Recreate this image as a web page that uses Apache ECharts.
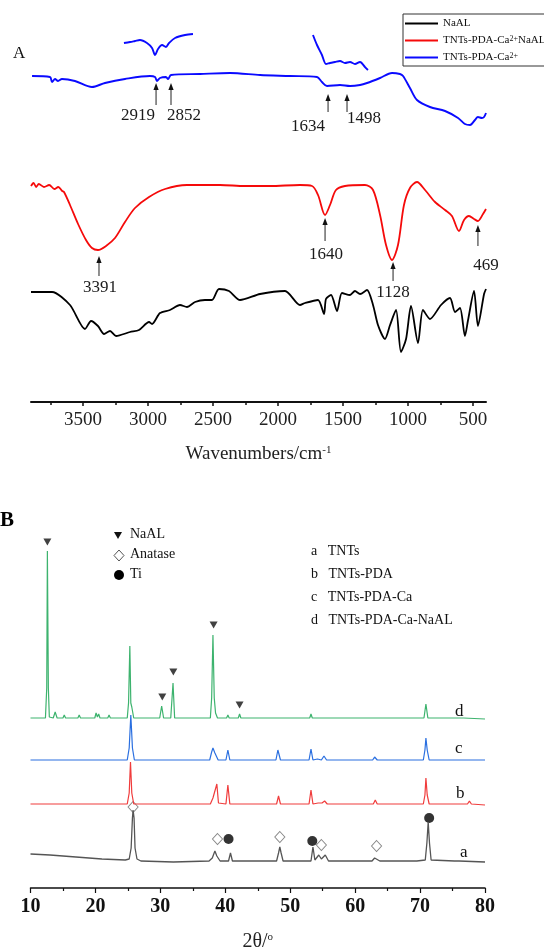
<!DOCTYPE html>
<html>
<head>
<meta charset="utf-8">
<script src="https://cdn.jsdelivr.net/npm/echarts@6.0.0/dist/echarts.min.js"></script>
<style>
  html, body { margin: 0; padding: 0; background: #fff; }
  #chart { width: 544px; height: 947px; }
</style>
</head>
<body>
<div id="chart"></div>
<script>
// ---- panel A: FTIR, [wavenumber, transmittance (a.u., offset)] ----
const ftirTicks = [3500, 3000, 2500, 2000, 1500, 1000, 500]
const ftirMinorTicks = [3750, 3250, 2750, 2250, 1750, 1250, 750]

const ftirNaAL = [
  [3900, 110], [3738, 110], [3600, 97], [3485, 73], [3438, 81], [3385, 76], [3338, 68],
  [3292, 71], [3246, 66], [3138, 70], [3069, 72], [2992, 80], [2969, 78], [2908, 89],
  [2831, 92], [2754, 97], [2700, 95], [2638, 100], [2562, 102], [2508, 102], [2454, 113],
  [2377, 111], [2292, 102], [2138, 108], [1946, 111], [1831, 97], [1792, 99], [1692, 102],
  [1646, 88], [1631, 103], [1592, 107], [1546, 91], [1508, 109], [1446, 107], [1408, 111],
  [1369, 108], [1315, 112], [1269, 97], [1231, 77], [1177, 63], [1138, 77], [1092, 92],
  [1054, 50], [1015, 63], [977, 96], [923, 59], [885, 92], [831, 83], [746, 97], [677, 104],
  [638, 90], [600, 94], [562, 66], [538, 82], [492, 111], [462, 76], [415, 108], [400, 113]
]
const ftirTNTsPDACaNaAL = [
  [3900, 216], [3880, 219], [3860, 215], [3840, 218], [3800, 215], [3760, 217], [3720, 213],
  [3690, 215], [3660, 211], [3646, 210], [3600, 197], [3538, 178], [3477, 162], [3431, 154],
  [3385, 152], [3323, 156], [3254, 164], [3177, 180], [3100, 194], [2992, 205], [2869, 213],
  [2700, 217], [2446, 217], [2254, 216], [2062, 216], [1831, 217], [1738, 216], [1692, 207],
  [1638, 187], [1600, 197], [1554, 212], [1485, 216], [1331, 217], [1269, 212], [1215, 187],
  [1169, 157], [1123, 142], [1077, 157], [1031, 197], [985, 214], [931, 220], [869, 212],
  [792, 200], [715, 192], [662, 186], [608, 171], [569, 182], [531, 186], [492, 183],
  [462, 181], [423, 188], [400, 193]
]
const ftirTNTsPDACa = [
  [3892, 326], [3754, 325], [3738, 320], [3715, 323], [3692, 321], [3662, 323], [3562, 321],
  [3431, 315], [3331, 319], [3177, 323], [2985, 326], [2946, 325], [2931, 321], [2908, 324],
  [2862, 325], [2846, 323], [2823, 327], [2600, 328], [2369, 329], [2138, 327], [1908, 326],
  [1700, 325], [1662, 320], [1623, 316], [1523, 317], [1446, 316], [1369, 317], [1315, 319],
  [1215, 324], [1123, 329], [1062, 328], [1038, 326], [985, 314], [931, 302], [831, 295],
  [715, 291], [615, 284], [562, 278], [523, 277], [485, 282], [462, 285], [431, 284],
  [415, 285], [400, 289]
]
// magnified insets of the TNTs-PDA-Ca2+ curve
const ftirInsetCH = [
  [3185, 359], [3138, 360], [3100, 361], [3062, 362], [3008, 359], [2969, 354], [2946, 347],
  [2923, 353], [2892, 357], [2862, 355], [2838, 359], [2792, 364], [2715, 367], [2654, 368]
]
const ftirInsetAmide = [
  [1731, 367], [1700, 357], [1662, 347], [1631, 338], [1600, 339], [1562, 340], [1523, 341],
  [1485, 339], [1446, 340], [1408, 338], [1369, 340], [1331, 335], [1308, 332]
]
// peak markers: arrow position, arrow tail, arrow head, text
const ftirMarkWn = [2938, 2823, 1615, 1469, 3377, 1638, 1115, 462]
const ftirMarkTail = [297, 297, 290, 290, 126, 161, 121, 156]
const ftirMarkHead = [319, 319, 308, 308, 146, 184, 140, 177]
const ftirMarkText = ['2919', '2852', '1634', '1498', '3391', '1640', '1128', '469']

// ---- panel B: XRD, [2theta, intensity (a.u., offset)] ----
const xrdTNTs = [
  [10, 34], [13, 33], [17, 31], [21, 29], [24.6, 28], [25.2, 29], [25.5, 40], [25.7, 70],
  [25.8, 78], [25.95, 70], [26.1, 40], [26.4, 29], [27, 27], [32, 26], [37.5, 27], [38.0, 30],
  [38.4, 37], [38.7, 32], [38.9, 33], [39.2, 27], [40.5, 27], [40.8, 35], [41.1, 27],
  [47.9, 27], [48.2, 35], [48.4, 41], [48.6, 35], [48.9, 27], [53.2, 27], [53.5, 41],
  [53.8, 28], [54.1, 28], [54.4, 33], [54.8, 29], [55.4, 33], [55.9, 27], [62.6, 27],
  [63.0, 30], [63.3, 32], [63.8, 27], [69.5, 27], [70.8, 28], [71.05, 45], [71.25, 66],
  [71.45, 45], [71.7, 28], [75.3, 27], [75.6, 28], [76.0, 27], [80, 26]
]
const xrdTNTsPDA = [
  [10, 84], [24.9, 84], [25.2, 95], [25.4, 126], [25.6, 95], [25.9, 84], [37.7, 84], [38.1, 90],
  [38.4, 88], [38.7, 104], [38.95, 85], [40.1, 84], [40.4, 103], [40.7, 84], [47.9, 84],
  [48.2, 92], [48.5, 84], [52.9, 84], [53.2, 98], [53.5, 84], [54.3, 85], [54.6, 87],
  [54.9, 85], [55.3, 87], [55.7, 84], [62.8, 84], [63.1, 88], [63.4, 84], [70.5, 84],
  [70.75, 93], [70.9, 110], [71.1, 93], [71.4, 84], [76.3, 84], [76.6, 86], [76.9, 84],
  [77.3, 84], [77.6, 87], [77.9, 84], [80, 83]
]
const xrdTNTsPDACa = [
  [10, 128], [24.9, 128], [25.2, 140], [25.45, 173], [25.7, 140], [26.0, 128], [37.6, 128],
  [37.9, 136], [38.1, 140], [38.4, 135], [38.6, 135], [38.9, 128], [40.1, 128], [40.4, 138],
  [40.7, 128], [47.8, 128], [48.1, 138], [48.5, 128], [52.9, 128], [53.2, 139], [53.5, 128],
  [54.2, 129], [54.5, 131], [54.8, 128], [55.2, 132], [55.6, 128], [62.7, 128], [63.0, 131],
  [63.4, 128], [70.5, 128], [70.75, 138], [70.9, 150], [71.1, 138], [71.4, 128], [76.1, 128],
  [76.4, 130], [76.7, 128], [80, 128]
]
const xrdTNTsPDACaNaAL = [
  [10, 170], [12.3, 170], [12.5, 200], [12.6, 337], [12.75, 200], [12.9, 171], [13.5, 170],
  [13.8, 176], [14.1, 170], [15.0, 170], [15.2, 173], [15.4, 170], [17.3, 170], [17.5, 173],
  [17.7, 170], [19.9, 170], [20.1, 175], [20.3, 171], [20.5, 174], [20.7, 170], [21.9, 170],
  [22.1, 173], [22.3, 170], [23.4, 170], [23.6, 172], [23.8, 170], [24.9, 170], [25.1, 185],
  [25.3, 242], [25.45, 185], [25.6, 181], [25.9, 170], [29.9, 170], [30.2, 182], [30.5, 170],
  [31.6, 170], [31.95, 205], [32.2, 170], [33.1, 170], [33.3, 172], [33.5, 170], [34.3, 170],
  [34.5, 172], [34.7, 170], [37.7, 170], [37.9, 190], [38.1, 253], [38.3, 190], [38.5, 175],
  [38.8, 170], [40.2, 170], [40.4, 173], [40.6, 170], [42.0, 170], [42.2, 174], [42.4, 170],
  [48.0, 170], [48.2, 172], [48.5, 170], [53.0, 170], [53.2, 174], [53.4, 170], [54.2, 170],
  [54.4, 171], [54.6, 170], [62.8, 170], [63.0, 171], [63.2, 170], [66.4, 170], [66.6, 171],
  [66.8, 170], [70.6, 170], [70.9, 184], [71.2, 170], [76.3, 170], [76.5, 171], [76.7, 170],
  [80, 169]
]
const xrdNaALPeaks = [[12.6, 346], [30.3, 191], [32.0, 216], [38.2, 263], [42.2, 183]]
const xrdAnatasePeaks = [[25.8, 81], [38.8, 49], [48.4, 51], [54.8, 43], [63.3, 42]]
const xrdTiPeaks = [[40.5, 49], [53.4, 47], [71.4, 70]]

const SERIF = '"Liberation Serif", "DejaVu Serif", serif'
// label offsets (px) from arrow tail, layout only
const markShift = [[-18, 11], [13, 11], [-20, 15], [17, 7], [1, 12], [1, 14], [0, 12], [8, 20]]

const chart = echarts.init(document.getElementById('chart'))

function renderArrow(params, api) {
  const i = params.dataIndex
  const tail = api.coord([api.value(0), api.value(1)])
  const head = api.coord([api.value(0), api.value(2)])
  return {
    type: 'group',
    children: [
      { type: 'line', shape: { x1: tail[0], y1: tail[1], x2: head[0], y2: head[1] + 5 },
        style: { stroke: '#222', lineWidth: 1 } },
      { type: 'polygon', shape: { points: [[head[0], head[1]], [head[0] - 2.6, head[1] + 7], [head[0] + 2.6, head[1] + 7]] },
        style: { fill: '#111' } },
      { type: 'text', x: tail[0] + markShift[i][0], y: tail[1] + markShift[i][1],
        style: { text: ftirMarkText[i], font: '17px ' + SERIF, fill: '#1a1a1a', align: 'center', verticalAlign: 'middle' } }
    ]
  }
}

const legendNames = {
  'NaAL': 'NaAL',
  'TNTs-PDA-Ca2+NaAL': 'TNTs-PDA-Ca{s|2+}NaAL',
  'TNTs-PDA-Ca2+': 'TNTs-PDA-Ca{s|2+}'
}

chart.setOption({
  animation: false,
  backgroundColor: '#fff',
  grid: [
    { left: 31, right: 58, top: 10, bottom: 545, outerBoundsMode: 'none' },
    { left: 30.5, right: 59, top: 540, bottom: 59, outerBoundsMode: 'none' }
  ],
  legend: {
    data: ['NaAL', 'TNTs-PDA-Ca2+NaAL', 'TNTs-PDA-Ca2+'],
    orient: 'vertical',
    left: 403,
    top: 14,
    icon: 'rect',
    itemWidth: 33,
    itemHeight: 2,
    itemGap: 6,
    padding: [4, 4, 3, 2],
    borderColor: '#333',
    borderWidth: 1,
    selectedMode: false,
    formatter: name => legendNames[name],
    textStyle: {
      fontFamily: SERIF, fontSize: 11, color: '#111',
      rich: { s: { fontFamily: SERIF, fontSize: 8, verticalAlign: 'top', color: '#111' } }
    }
  },
  xAxis: [
    {
      gridIndex: 0, type: 'value', position: 'bottom', min: 400, max: 3900, inverse: true,
      axisLine: { lineStyle: { color: '#111', width: 2 } },
      axisTick: { customValues: ftirTicks, length: 4, lineStyle: { color: '#111', width: 1.5 } },
      axisLabel: { customValues: ftirTicks, formatter: v => String(v), fontFamily: SERIF, fontSize: 19, color: '#222', margin: 9 },
      splitLine: { show: false },
      name: '{a|Wavenumbers/cm}{b|-1}',
      nameLocation: 'middle',
      nameGap: 43,
      nameTextStyle: {
        rich: {
          a: { fontFamily: SERIF, fontSize: 19, color: '#222' },
          b: { fontFamily: SERIF, fontSize: 11, color: '#222', verticalAlign: 'top' }
        }
      }
    },
    {
      gridIndex: 0, type: 'value', position: 'bottom', min: 400, max: 3900, inverse: true,
      axisLine: { show: false },
      axisTick: { customValues: ftirMinorTicks, length: 3, lineStyle: { color: '#111', width: 1.5 } },
      axisLabel: { show: false },
      splitLine: { show: false }
    },
    {
      gridIndex: 1, type: 'value', min: 10, max: 80, interval: 10,
      axisLine: { lineStyle: { color: '#111', width: 1.5 } },
      axisTick: { length: 5, lineStyle: { color: '#111', width: 1.2 } },
      minorTick: { show: true, splitNumber: 2, length: 3, lineStyle: { color: '#111', width: 1.2 } },
      axisLabel: { fontFamily: SERIF, fontSize: 20, fontWeight: 'bold', color: '#111', margin: 9 },
      splitLine: { show: false },
      name: '2θ/{s|o}',
      nameLocation: 'middle',
      nameGap: 44,
      nameTextStyle: {
        fontFamily: SERIF, fontSize: 20, color: '#222',
        rich: { s: { fontFamily: SERIF, fontSize: 11, color: '#222', verticalAlign: 'top' } }
      }
    }
  ],
  yAxis: [
    { gridIndex: 0, type: 'value', min: 0, max: 392, show: false },
    { gridIndex: 1, type: 'value', min: 0, max: 348, show: false }
  ],
  series: [
    {
      name: 'NaAL', type: 'line', xAxisIndex: 0, yAxisIndex: 0, data: ftirNaAL,
      showSymbol: false, smooth: 0.25, lineStyle: { color: '#000', width: 1.8 }, itemStyle: { color: '#000' }
    },
    {
      name: 'TNTs-PDA-Ca2+NaAL', type: 'line', xAxisIndex: 0, yAxisIndex: 0, data: ftirTNTsPDACaNaAL,
      showSymbol: false, smooth: 0.3, lineStyle: { color: '#f50a0a', width: 1.8 }, itemStyle: { color: '#f50a0a' }
    },
    {
      name: 'TNTs-PDA-Ca2+', type: 'line', xAxisIndex: 0, yAxisIndex: 0, data: ftirTNTsPDACa,
      showSymbol: false, smooth: 0.3, lineStyle: { color: '#0a0aff', width: 1.9 }, itemStyle: { color: '#0a0aff' }
    },
    {
      name: 'TNTs-PDA-Ca2+', type: 'line', xAxisIndex: 0, yAxisIndex: 0, data: ftirInsetCH,
      showSymbol: false, smooth: 0.3, lineStyle: { color: '#0a0aff', width: 1.9 }, itemStyle: { color: '#0a0aff' }
    },
    {
      name: 'TNTs-PDA-Ca2+', type: 'line', xAxisIndex: 0, yAxisIndex: 0, data: ftirInsetAmide,
      showSymbol: false, smooth: 0.3, lineStyle: { color: '#0a0aff', width: 1.9 }, itemStyle: { color: '#0a0aff' }
    },
    {
      type: 'custom', xAxisIndex: 0, yAxisIndex: 0, renderItem: renderArrow, clip: false,
      data: ftirMarkWn.map((w, i) => [w, ftirMarkTail[i], ftirMarkHead[i]])
    },
    {
      name: 'a TNTs', type: 'line', xAxisIndex: 2, yAxisIndex: 1, data: xrdTNTs,
      showSymbol: false, lineStyle: { color: '#555', width: 1.3 }
    },
    {
      name: 'b TNTs-PDA', type: 'line', xAxisIndex: 2, yAxisIndex: 1, data: xrdTNTsPDA,
      showSymbol: false, lineStyle: { color: '#f03c3c', width: 1.2 }
    },
    {
      name: 'c TNTs-PDA-Ca', type: 'line', xAxisIndex: 2, yAxisIndex: 1, data: xrdTNTsPDACa,
      showSymbol: false, lineStyle: { color: '#2a6fe0', width: 1.2 }
    },
    {
      name: 'd TNTs-PDA-Ca-NaAL', type: 'line', xAxisIndex: 2, yAxisIndex: 1, data: xrdTNTsPDACaNaAL,
      showSymbol: false, lineStyle: { color: '#3db36e', width: 1.2 }
    },
    {
      name: 'NaAL peaks', type: 'scatter', xAxisIndex: 2, yAxisIndex: 1, data: xrdNaALPeaks,
      symbol: 'triangle', symbolRotate: 180, symbolSize: [8, 7], itemStyle: { color: '#111' }
    },
    {
      name: 'Anatase peaks', type: 'scatter', xAxisIndex: 2, yAxisIndex: 1, data: xrdAnatasePeaks,
      symbol: 'diamond', symbolSize: [10, 11], itemStyle: { color: '#fff', borderColor: '#666', borderWidth: 1 }
    },
    {
      name: 'Ti peaks', type: 'scatter', xAxisIndex: 2, yAxisIndex: 1, data: xrdTiPeaks,
      symbol: 'circle', symbolSize: 10, itemStyle: { color: '#000' }
    }
  ],
  graphic: [
    { type: 'text', left: 13, top: 45, style: { text: 'A', font: '17px ' + SERIF, fill: '#111' } },
    { type: 'text', left: 0, top: 510, style: { text: 'B', font: 'bold 21px ' + SERIF, fill: '#000' } },
    // panel B symbol key
    { type: 'polygon', shape: { points: [[114, 532], [122, 532], [118, 539]] }, style: { fill: '#111' } },
    { type: 'text', left: 130, top: 527, style: { text: 'NaAL', font: '14px ' + SERIF, fill: '#111' } },
    { type: 'polygon', shape: { points: [[119, 550], [124, 555.5], [119, 561], [114, 555.5]] },
      style: { fill: '#fff', stroke: '#555', lineWidth: 1 } },
    { type: 'text', left: 130, top: 547, style: { text: 'Anatase', font: '14px ' + SERIF, fill: '#111' } },
    { type: 'circle', shape: { cx: 119, cy: 575, r: 5 }, style: { fill: '#000' } },
    { type: 'text', left: 130, top: 567, style: { text: 'Ti', font: '14px ' + SERIF, fill: '#111' } },
    // panel B sample key
    { type: 'text', left: 311, top: 544, style: { text: 'a   TNTs', font: '14px ' + SERIF, fill: '#111' } },
    { type: 'text', left: 311, top: 567, style: { text: 'b   TNTs-PDA', font: '14px ' + SERIF, fill: '#111' } },
    { type: 'text', left: 311, top: 590, style: { text: 'c   TNTs-PDA-Ca', font: '14px ' + SERIF, fill: '#111' } },
    { type: 'text', left: 311, top: 613, style: { text: 'd   TNTs-PDA-Ca-NaAL', font: '14px ' + SERIF, fill: '#111' } },
    // curve letters
    { type: 'text', left: 455, top: 703, style: { text: 'd', font: '17px ' + SERIF, fill: '#111' } },
    { type: 'text', left: 455, top: 740, style: { text: 'c', font: '17px ' + SERIF, fill: '#111' } },
    { type: 'text', left: 456, top: 785, style: { text: 'b', font: '17px ' + SERIF, fill: '#111' } },
    { type: 'text', left: 460, top: 844, style: { text: 'a', font: '17px ' + SERIF, fill: '#111' } }
  ]
})
</script>
</body>
</html>
